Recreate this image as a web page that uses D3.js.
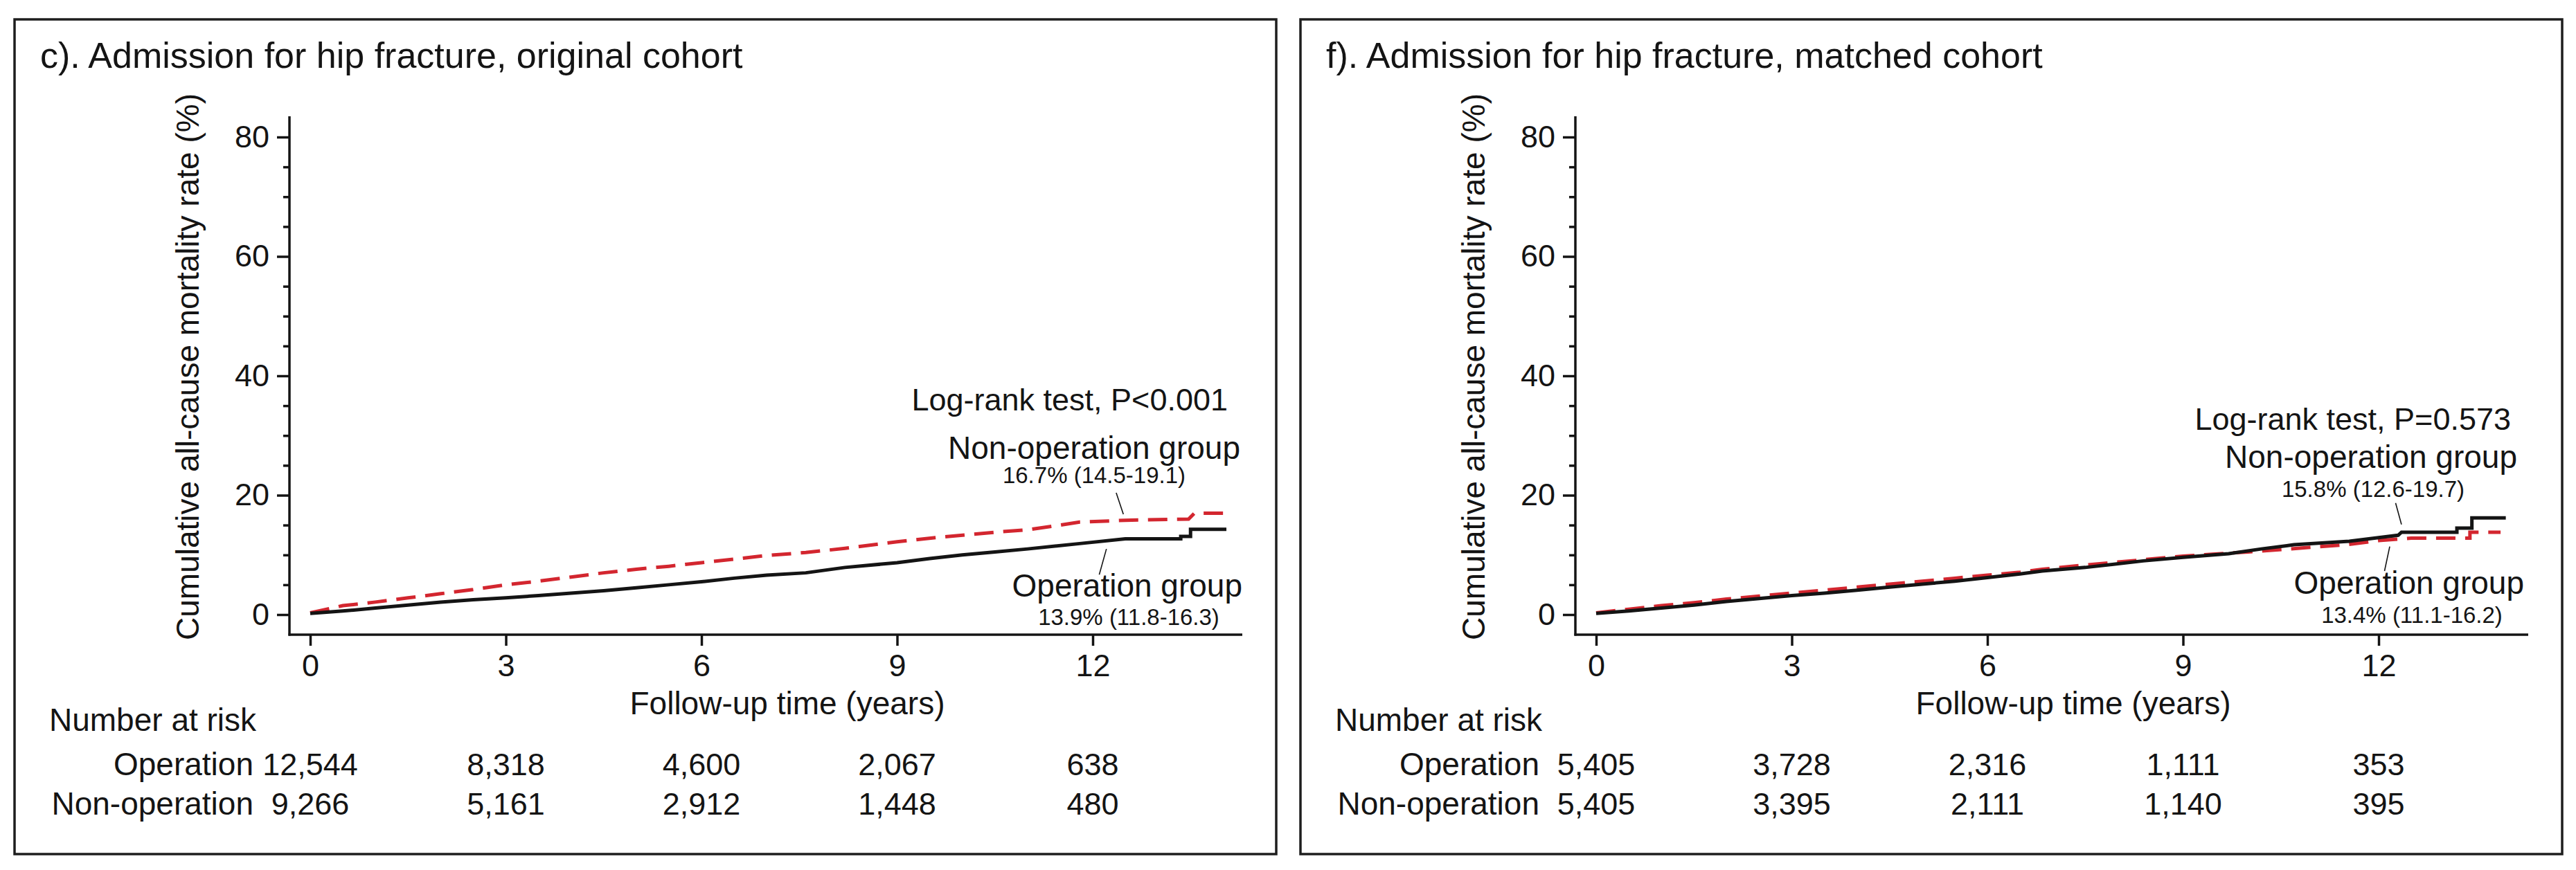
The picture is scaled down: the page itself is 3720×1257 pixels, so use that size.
<html>
<head>
  <meta charset="utf-8" />
  <script src="https://d3js.org/d3.v7.min.js"></script>
</head>
<body style="margin: 0; background: #ffffff">
<script>

// ticks shared by both panels
var yearTicks = [0, 3, 6, 9, 12]
var rateTicks = [0, 20, 40, 60, 80]
var rateMinor = [5, 10, 15, 25, 30, 35, 45, 50, 55, 65, 70, 75]

// c) original cohort  [follow-up years, cumulative mortality %]
var origOperation = [[0,0.2],[0.5,0.6],[1,1.1],[1.5,1.6],[2,2.1],[2.5,2.5],[3,2.8],[3.5,3.2],[4,3.6],[4.5,4.0],
  [5,4.5],[5.5,5.0],[6,5.5],[6.5,6.1],[7,6.6],[7.6,7.0],[8.2,7.9],[9,8.7],[9.5,9.4],[10,10.0],[10.5,10.5],
  [11,11.0],[11.8,11.9],[12.5,12.7],[13.35,12.7],[13.35,13.1],[13.5,13.1],[13.5,14.3],[14.05,14.3]]
var origNonOperation = [[0,0.3],[0.5,1.5],[1,2.1],[1.5,2.8],[2,3.5],[2.5,4.2],[3,5.0],[3.5,5.6],[4,6.3],[4.5,7.0],
  [5,7.6],[5.5,8.1],[6,8.7],[6.5,9.3],[7,9.9],[7.6,10.4],[8.2,11.1],[9,12.2],[9.6,12.9],[10.5,13.8],[11,14.2],
  [11.5,15.0],[11.8,15.5],[12.5,15.8],[13.47,16.0],[13.56,17.0],[14.0,17.0]]
var origRiskOperation = [12544, 8318, 4600, 2067, 638]
var origRiskNonOperation = [9266, 5161, 2912, 1448, 480]

// f) matched cohort
var matchOperation = [[0,0.2],[0.5,0.6],[1,1.1],[1.5,1.6],[2,2.2],[2.5,2.7],[3,3.2],[3.5,3.6],[4,4.1],[4.5,4.6],
  [5,5.1],[5.5,5.6],[6,6.2],[6.5,6.8],[6.84,7.3],[7.5,7.9],[8.39,9.0],[9,9.6],[9.7,10.2],[10.2,11.0],[10.7,11.7],
  [11.55,12.3],[12,12.9],[12.3,13.3],[12.35,13.8],[13.2,13.8],[13.2,14.5],[13.43,14.5],[13.43,16.2],[13.95,16.2]]
var matchNonOperation = [[0,0.3],[0.5,0.9],[1,1.5],[1.5,2.0],[2,2.6],[2.5,3.1],[3,3.6],[3.5,4.1],[4,4.6],[4.5,5.1],
  [5,5.6],[5.5,6.1],[6,6.6],[6.5,7.1],[6.84,7.6],[7.5,8.3],[8,8.8],[9,9.8],[10,10.5],[11,11.3],[11.5,11.7],
  [12,12.4],[12.5,12.8],[13.4,12.8],[13.4,13.8],[13.87,13.8]]
var matchRiskOperation = [5405, 3728, 2316, 1111, 353]
var matchRiskNonOperation = [5405, 3395, 2111, 1140, 395]

var font = "'Liberation Sans', Arial, Helvetica, sans-serif"
var ink = "#141414"
var red = "#d3262f"
var fmt = d3.format(",")

var svg = d3.select("body").append("svg")
  .attr("width", 3720)
  .attr("height", 1257)
  .style("font-family", font)

var x = d3.scaleLinear().domain([0, 12]).range([448, 1578])
var y = d3.scaleLinear().domain([0, 80]).range([888, 198])

function drawPanel(offsetX, p) {
  var g = svg.append("g").attr("transform", "translate(" + offsetX + ",0)")

  g.append("rect")
    .attr("x", 21).attr("y", 28)
    .attr("width", 1822).attr("height", 1206)
    .attr("fill", "none").attr("stroke", "#1e1e1e").attr("stroke-width", 3.5)

  g.append("text").attr("x", 58).attr("y", 98)
    .attr("font-size", 52).attr("fill", ink).text(p.title)

  // axes
  var yAxis = g.append("g").attr("transform", "translate(418,0)")
    .call(d3.axisLeft(y).tickValues(rateTicks).tickSize(18).tickPadding(11))
  var yMinor = g.append("g").attr("transform", "translate(418,0)")
    .call(d3.axisLeft(y).tickValues(rateMinor).tickSize(9).tickFormat(""))
  var xAxis = g.append("g").attr("transform", "translate(0,917)")
    .call(d3.axisBottom(x).tickValues(yearTicks).tickSize(16).tickPadding(12))

  ;[yAxis, yMinor, xAxis].forEach(function(a) {
    a.select(".domain").remove()
    a.selectAll("line").attr("stroke", ink).attr("stroke-width", 3.5)
    a.selectAll("text").attr("font-size", 45).attr("fill", ink).style("font-family", font)
  })

  g.append("line").attr("x1", 418).attr("x2", 418).attr("y1", 168).attr("y2", 918.5)
    .attr("stroke", ink).attr("stroke-width", 3.5)
  g.append("line").attr("x1", 416.5).attr("x2", 1794).attr("y1", 917).attr("y2", 917)
    .attr("stroke", ink).attr("stroke-width", 3.5)

  g.append("text")
    .attr("transform", "translate(287,530) rotate(-90)")
    .attr("text-anchor", "middle").attr("font-size", 46).attr("fill", ink)
    .text("Cumulative all-cause mortality rate (%)")

  g.append("text").attr("x", 1137).attr("y", 1032)
    .attr("text-anchor", "middle").attr("font-size", 46).attr("fill", ink)
    .text("Follow-up time (years)")

  // curves
  var line = d3.line().x(function(d) { return x(d[0]) }).y(function(d) { return y(d[1]) })

  g.append("path").datum(p.nonOperation)
    .attr("d", line).attr("fill", "none")
    .attr("stroke", red).attr("stroke-width", 5)
    .attr("stroke-dasharray", "28,14")

  g.append("path").datum(p.operation)
    .attr("d", line).attr("fill", "none")
    .attr("stroke", ink).attr("stroke-width", 5)

  // annotations
  var a = p.notes
  g.append("text").attr("x", a.logrank[0]).attr("y", a.logrank[1])
    .attr("text-anchor", "end").attr("font-size", 45).attr("fill", ink).text(p.logrank)
  g.append("text").attr("x", a.nonLabel[0]).attr("y", a.nonLabel[1])
    .attr("text-anchor", "end").attr("font-size", 46).attr("fill", ink).text("Non-operation group")
  g.append("text").attr("x", a.nonRate[0]).attr("y", a.nonRate[1])
    .attr("text-anchor", "middle").attr("font-size", 33).attr("fill", ink).text(p.nonRate)
  g.append("text").attr("x", a.opLabel[0]).attr("y", a.opLabel[1])
    .attr("text-anchor", "end").attr("font-size", 46).attr("fill", ink).text("Operation group")
  g.append("text").attr("x", a.opRate[0]).attr("y", a.opRate[1])
    .attr("text-anchor", "middle").attr("font-size", 33).attr("fill", ink).text(p.opRate)

  g.selectAll(".leader").data(p.leaders).enter().append("line")
    .attr("class", "leader")
    .attr("x1", function(d) { return x(d[0][0]) }).attr("y1", function(d) { return y(d[0][1]) })
    .attr("x2", function(d) { return x(d[1][0]) }).attr("y2", function(d) { return y(d[1][1]) })
    .attr("stroke", ink).attr("stroke-width", 1.6)

  // number at risk table
  g.append("text").attr("x", 71).attr("y", 1056)
    .attr("font-size", 46).attr("fill", ink).text("Number at risk")

  var rows = [["Operation", p.riskOperation, 1120], ["Non-operation", p.riskNonOperation, 1177]]
  rows.forEach(function(r) {
    g.append("text").attr("x", 366).attr("y", r[2])
      .attr("text-anchor", "end").attr("font-size", 46).attr("fill", ink).text(r[0])
    g.selectAll(null).data(r[1]).enter().append("text")
      .attr("x", function(d, i) { return x(yearTicks[i]) })
      .attr("y", r[2])
      .attr("text-anchor", "middle").attr("font-size", 45).attr("fill", ink)
      .text(function(d) { return fmt(d) })
  })
}

drawPanel(0, {
  title: "c). Admission for hip fracture, original cohort",
  operation: origOperation,
  nonOperation: origNonOperation,
  riskOperation: origRiskOperation,
  riskNonOperation: origRiskNonOperation,
  logrank: "Log-rank test, P<0.001",
  nonRate: "16.7% (14.5-19.1)",
  opRate: "13.9% (11.8-16.3)",
  notes: { logrank: [1773, 593], nonLabel: [1791, 663], nonRate: [1580, 698], opLabel: [1794, 862], opRate: [1630, 903] },
  leaders: [[[12.36, 20.4], [12.47, 16.8]], [[12.21, 11.0], [12.1, 6.7]]]
})

drawPanel(1857, {
  title: "f). Admission for hip fracture, matched cohort",
  operation: matchOperation,
  nonOperation: matchNonOperation,
  riskOperation: matchRiskOperation,
  riskNonOperation: matchRiskNonOperation,
  logrank: "Log-rank test, P=0.573",
  nonRate: "15.8% (12.6-19.7)",
  opRate: "13.4% (11.1-16.2)",
  notes: { logrank: [1769, 621], nonLabel: [1778, 676], nonRate: [1570, 718], opLabel: [1788, 858], opRate: [1626, 900] },
  leaders: [[[12.26, 18.7], [12.35, 15.1]], [[12.17, 11.4], [12.09, 7.3]]]
})

</script>
</body>
</html>
